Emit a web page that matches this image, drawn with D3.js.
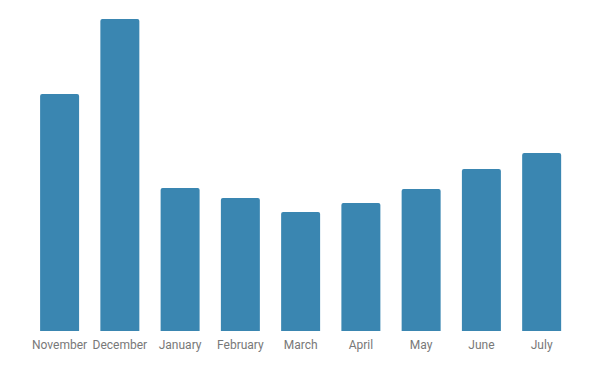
<!DOCTYPE html>
<html><head><meta charset="utf-8">
<script src="https://cdn.jsdelivr.net/npm/d3@7"></script>
<style>body{margin:0;background:#fff}svg{display:block}</style>
</head><body>
<script>
const categories = ["November","December","January","February","March","April","May","June","July"];
const values = [237, 312, 143, 133, 119, 128, 142, 162, 178];

const W = 600, H = 371;
const svg = d3.select("body").append("svg").attr("width", W).attr("height", H);
const x = d3.scaleBand().domain(categories).range([29.5, 571.75]).paddingInner(0.353).paddingOuter(0.176);
const y = d3.scaleLinear().domain([0, 312]).range([331, 19]);
const r = 2;
svg.append("g").selectAll("path").data(categories).join("path")
  .attr("fill", "#3a86b1")
  .attr("d", (c, i) => {
    const x0 = x(c), w = x.bandwidth(), y0 = y(values[i]), b = y(0);
    return `M${x0},${b}V${y0 + r}Q${x0},${y0} ${x0 + r},${y0}H${x0 + w - r}Q${x0 + w},${y0} ${x0 + w},${y0 + r}V${b}Z`;
  });
const ax = svg.append("g").attr("transform", `translate(0,${y(0)})`)
  .call(d3.axisBottom(x).tickSize(0).tickPadding(9));
ax.select(".domain").remove();
ax.selectAll("text").attr("fill", "#787878").style("font-family", "Roboto").style("font-size", "12px");
</script>
</body></html>
